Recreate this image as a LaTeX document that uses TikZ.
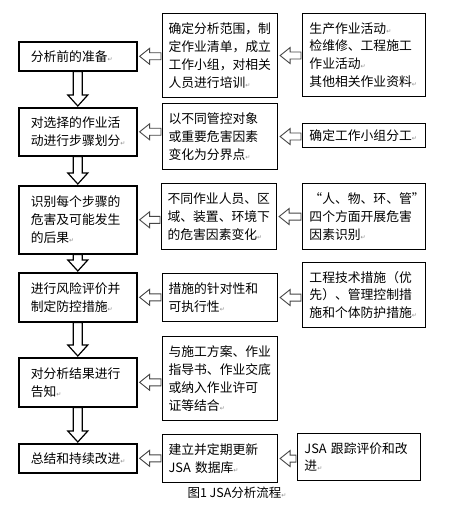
\documentclass[tikz,border=0pt]{standalone}
\usepackage{fontspec}
\setmainfont{Noto Sans CJK SC}
\newfontfamily\symfont{DejaVu Sans}
\usepackage{tikz}
\usetikzlibrary{calc}
\usepackage{xcolor}
\definecolor{arrline}{RGB}{70,70,70}

% paragraph mark as printed in the source
\newcommand{\pmark}{{\symfont\fontsize{6}{6}\selectfont\color{black!45}↵}}

% hollow block arrows
\newcommand{\leftblk}[2]{% #1 tip node anchor, #2 tail node anchor
  \draw[harr] ($(#1)+(2,0)$) -- ++(10,-8) -- ++(0,4.5) -- ($(#2 |- #1)+(-1,-3.5)$)
    -- ++(0,7) -- ($(#1)+(12,3.5)$) -- ++(0,4.5) -- cycle;}
\newcommand{\downblk}[2]{% #1 upper node, #2 lower node
  \draw[varr] ($(#2.north)+(0,-1)$) -- ++(-10,-11) -- ++(5.5,0) -- ($(#1.south)+(-4.5,0)$)
    -- ++(9,0) -- ($(#2.north)+(4.5,-12)$) -- ++(5.5,0) -- cycle;}

\begin{document}
\begin{tikzpicture}[
    x=1pt, y=-1pt,
    every node/.style={font=\fontsize{12.8}{17.8}\selectfont},
    bx/.style={rectangle, draw=black, anchor=north west, align=left, inner ysep=0pt},
    lbox/.style={bx, line width=1.6pt, inner xsep=12pt, text width=94pt},
    mbox/.style={bx, line width=1.1pt, inner xsep=6pt, text width=103pt},
    rbox/.style={bx, line width=0.9pt, inner xsep=7pt, text width=109pt},
    harr/.style={draw=arrline, fill=white, line width=0.9pt, line join=miter},
    varr/.style={draw=black, fill=white, line width=1.2pt, line join=miter},
    capt/.style={font=\fontsize{12.5}{14}\selectfont},
]
\useasboundingbox (0,0) rectangle (452,505);
\fill[white] (0,0) rectangle (452,505);

% ── Left column: main steps ──
\node[lbox, minimum height=29pt] (L1) at (18,41)  {分析前的准备\pmark};
\node[lbox, minimum height=48pt] (L2) at (18,107) {对选择的作业活\\动进行步骤划分\pmark};
\node[lbox, minimum height=68pt] (L3) at (18,185) {识别每个步骤的\\危害及可能发生\\的后果\pmark};
\node[lbox, minimum height=49pt] (L4) at (18,272) {进行风险评价并\\制定防控措施\pmark};
\node[lbox, minimum height=49pt] (L5) at (18,357) {对分析结果进行\\告知\pmark};
\node[lbox, minimum height=29pt] (L6) at (18,443) {总结和持续改进\pmark};

% ── Middle column: contents ──
\node[mbox, minimum height=84pt] (M1) at (162,13)  {确定分析范围，制\\定作业清单，成立\\工作小组，对相关\\人员进行培训\pmark};
\node[mbox, minimum height=66pt] (M2) at (162,103) {以不同管控对象\\或重要危害因素\\变化为分界点\pmark};
\node[mbox, minimum height=66pt] (M3) at (161,183) {不同作业人员、区\\域、装置、环境下\\的危害因素变化\pmark};
\node[mbox, minimum height=48pt] (M4) at (162,273) {措施的针对性和\\可执行性\pmark};
\node[mbox, minimum height=84pt] (M5) at (162,336) {与施工方案、作业\\指导书、作业交底\\或纳入作业许可\\证等结合\pmark};
\node[mbox, minimum height=48pt] (M6) at (162,434) {建立并定期更新\\JSA 数据库\pmark};

% ── Right column: inputs ──
\node[rbox, minimum height=83pt] (R1) at (302,13)  {生产作业活动\pmark\\检维修、工程施工\\作业活动\pmark\\其他相关作业资料\pmark};
\node[rbox, minimum height=24pt] (R2) at (302,123) {确定工作小组分工\pmark};
\node[rbox, minimum height=66pt] (R3) at (302,183) {“人、物、环、管”\\四个方面开展危害\\因素识别\pmark};
\node[rbox, minimum height=65pt] (R4) at (302,262) {工程技术措施（优\\先）、管理控制措\\施和个体防护措施\pmark};
\node[rbox, minimum height=47pt] (R5) at (297,433) {JSA 跟踪评价和改\\进\pmark};

% ── Down arrows ──
\downblk{L1}{L2}
\downblk{L2}{L3}
\downblk{L3}{L4}
\downblk{L4}{L5}
\downblk{L5}{L6}

% ── Left arrows ──
\leftblk{L1.east}{M1.west}
\leftblk{L2.east}{M2.west}
\leftblk{L3.east}{M3.west}
\leftblk{L4.east}{M4.west}
\leftblk{L5.east}{M5.west}
\leftblk{L6.east}{M6.west}
\leftblk{M1.east}{R1.west}
\leftblk{M2.east}{R2.west}
\leftblk{M3.east}{R3.west}
\leftblk{M4.east}{R4.west}
\leftblk{M6.east}{R5.west}

% ── Caption ──
\node[capt] (cap) at (237,493) {图1 JSA分析流程\pmark};

\end{tikzpicture}
\end{document}
